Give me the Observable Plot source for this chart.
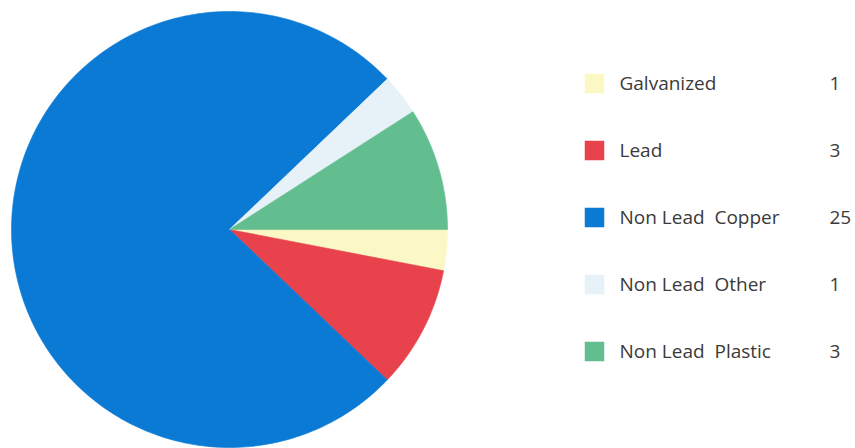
<!DOCTYPE html>
<html>
<head>
<meta charset="utf-8">
<script src="https://cdn.jsdelivr.net/npm/d3@7"></script>
<script src="https://cdn.jsdelivr.net/npm/@observablehq/plot@0.6"></script>
<style>
  html, body { margin: 0; padding: 0; background: #fff; }
  #chart svg { display: block; }
</style>
</head>
<body>
<div id="chart"></div>
<script>
const categories = ["Galvanized", "Lead", "Non Lead  Copper", "Non Lead  Other", "Non Lead  Plastic"];
const values = [1, 3, 25, 1, 3];
const colors = ["#FBF8C6", "#E8424D", "#0A7AD5", "#E6F2F8", "#62BE8E"];

const W = 855, H = 448;
const cx = 229, cy = 229, R = 218;

const pie = d3.pie().sort(null).startAngle(Math.PI / 2).endAngle(Math.PI / 2 + 2 * Math.PI);
const arcs = pie(values);

// Build slice outlines (center + points along the arc) in the x/y data space
const slicePts = [];
arcs.forEach((a, i) => {
  const steps = Math.max(4, Math.ceil((a.endAngle - a.startAngle) * 60));
  slicePts.push({cat: categories[i], x: cx, y: cy});
  for (let k = 0; k <= steps; k++) {
    const t = a.startAngle + (a.endAngle - a.startAngle) * k / steps;
    slicePts.push({cat: categories[i], x: cx + R * Math.sin(t), y: cy - R * Math.cos(t)});
  }
  slicePts.push({cat: categories[i], x: cx, y: cy});
});

const legend = categories.map((c, i) => ({cat: c, value: values[i], row: i}));
const rowY = i => 83 + i * 67;

const chart = Plot.plot({
  width: W,
  height: H,
  margin: 0,
  x: {domain: [0, W], range: [0, W], axis: null},
  y: {domain: [0, H], range: [0, H], axis: null},
  color: {domain: categories, range: colors},
  style: {fontFamily: "'Open Sans', sans-serif"},
  marks: [
    Plot.line(slicePts, {x: "x", y: "y", z: "cat", fill: "cat", stroke: "cat", strokeWidth: 0.6, curve: "linear"}),
    Plot.dot(legend, {x: () => 594, y: d => rowY(d.row), symbol: "square", r: 11, fill: "cat"}),
    Plot.text(legend, {x: () => 619, y: d => rowY(d.row), text: "cat", textAnchor: "start", fontSize: 19, fill: "#3a3a3a"}),
    Plot.text(legend, {x: () => 829, y: d => rowY(d.row), text: d => String(d.value), textAnchor: "start", fontSize: 19, fill: "#3a3a3a"})
  ]
});
document.getElementById("chart").appendChild(chart);
</script>
</body>
</html>
